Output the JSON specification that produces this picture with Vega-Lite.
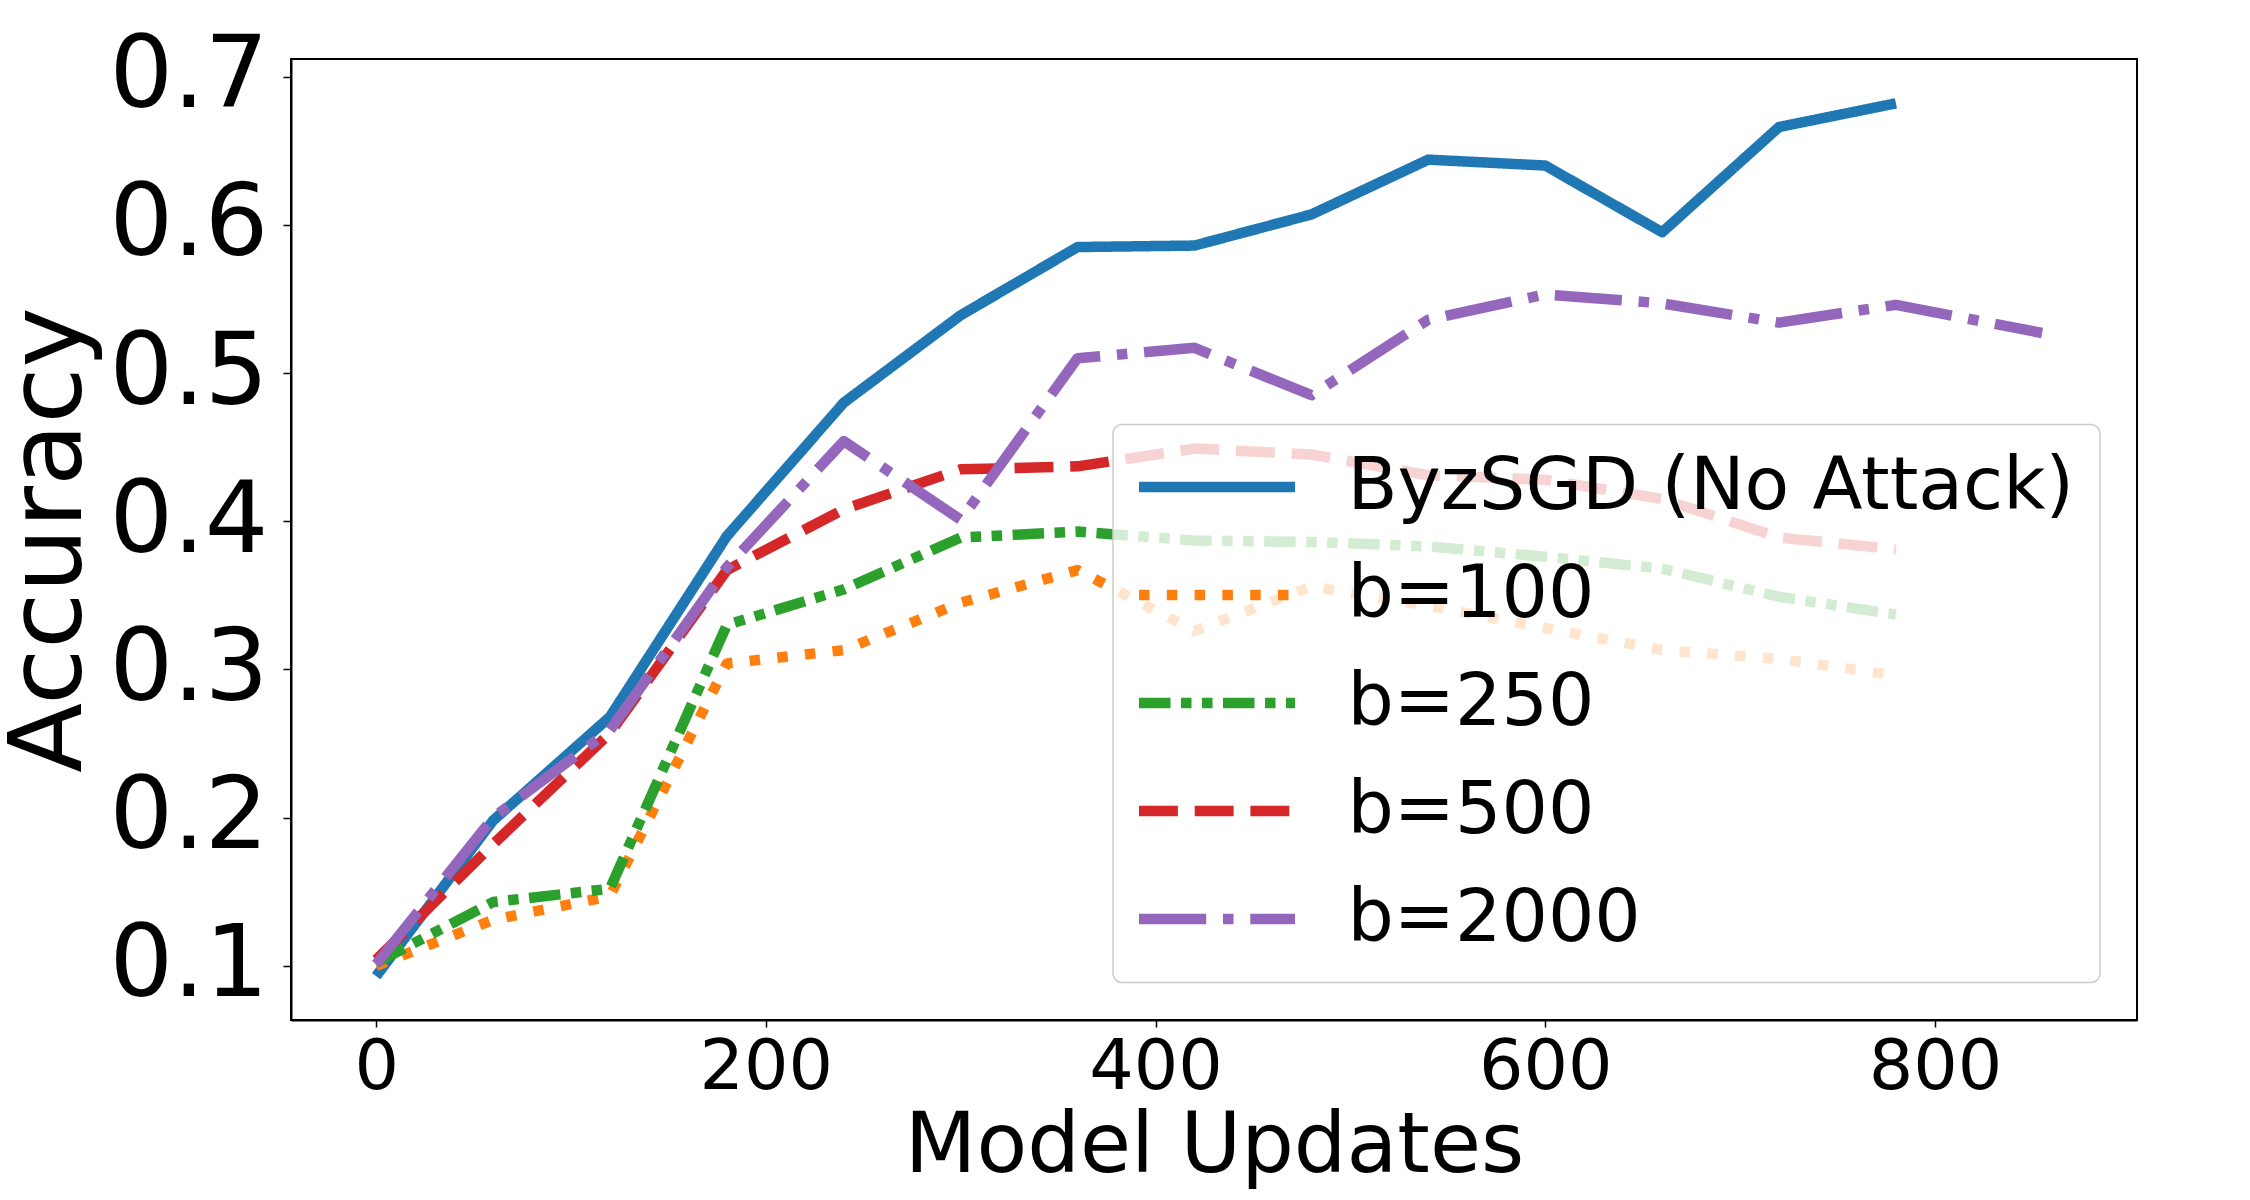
{
  "$schema": "https://vega.github.io/schema/vega-lite/v6.json",
  "width": 1846,
  "height": 961,
  "autosize": {"type": "none"},
  "padding": {"left": 291, "top": 59, "right": 113, "bottom": 180},
  "background": "white",
  "config": {
    "font": "DejaVu Sans",
    "view": {"stroke": "black", "strokeWidth": 2},
    "legend": {
      "orient": "none",
      "legendX": 822,
      "legendY": 365.5,
      "title": null,
      "labelFont": "DejaVu Sans",
      "labelFontSize": 73,
      "labelColor": "black",
      "labelLimit": 3000,
      "symbolType": "M-3,0H3",
      "symbolSize": 2704,
      "symbolStrokeWidth": 10.5,
      "symbolOffset": 41.5,
      "labelOffset": 94,
      "rowPadding": 34,
      "padding": 26,
      "fillColor": "rgba(255,255,255,0.8)",
      "strokeColor": "#cccccc",
      "strokeWidth": 1.5,
      "cornerRadius": 9
    }
  },
  "data": {
    "values": [
      {"series": "ByzSGD (No Attack)", "updates": 0, "accuracy": 0.093},
      {"series": "ByzSGD (No Attack)", "updates": 60, "accuracy": 0.198},
      {"series": "ByzSGD (No Attack)", "updates": 120, "accuracy": 0.268},
      {"series": "ByzSGD (No Attack)", "updates": 180, "accuracy": 0.390},
      {"series": "ByzSGD (No Attack)", "updates": 240, "accuracy": 0.480},
      {"series": "ByzSGD (No Attack)", "updates": 300, "accuracy": 0.539},
      {"series": "ByzSGD (No Attack)", "updates": 360, "accuracy": 0.585},
      {"series": "ByzSGD (No Attack)", "updates": 420, "accuracy": 0.586},
      {"series": "ByzSGD (No Attack)", "updates": 480, "accuracy": 0.607},
      {"series": "ByzSGD (No Attack)", "updates": 540, "accuracy": 0.644},
      {"series": "ByzSGD (No Attack)", "updates": 600, "accuracy": 0.640},
      {"series": "ByzSGD (No Attack)", "updates": 660, "accuracy": 0.595},
      {"series": "ByzSGD (No Attack)", "updates": 720, "accuracy": 0.666},
      {"series": "ByzSGD (No Attack)", "updates": 780, "accuracy": 0.682},
      {"series": "b=100", "updates": 0, "accuracy": 0.100},
      {"series": "b=100", "updates": 60, "accuracy": 0.131},
      {"series": "b=100", "updates": 120, "accuracy": 0.147},
      {"series": "b=100", "updates": 180, "accuracy": 0.304},
      {"series": "b=100", "updates": 240, "accuracy": 0.313},
      {"series": "b=100", "updates": 300, "accuracy": 0.345},
      {"series": "b=100", "updates": 360, "accuracy": 0.367},
      {"series": "b=100", "updates": 420, "accuracy": 0.326},
      {"series": "b=100", "updates": 480, "accuracy": 0.356},
      {"series": "b=100", "updates": 540, "accuracy": 0.343},
      {"series": "b=100", "updates": 600, "accuracy": 0.328},
      {"series": "b=100", "updates": 660, "accuracy": 0.313},
      {"series": "b=100", "updates": 720, "accuracy": 0.307},
      {"series": "b=100", "updates": 780, "accuracy": 0.296},
      {"series": "b=250", "updates": 0, "accuracy": 0.102},
      {"series": "b=250", "updates": 60, "accuracy": 0.143},
      {"series": "b=250", "updates": 120, "accuracy": 0.152},
      {"series": "b=250", "updates": 180, "accuracy": 0.330},
      {"series": "b=250", "updates": 240, "accuracy": 0.354},
      {"series": "b=250", "updates": 300, "accuracy": 0.389},
      {"series": "b=250", "updates": 360, "accuracy": 0.393},
      {"series": "b=250", "updates": 420, "accuracy": 0.387},
      {"series": "b=250", "updates": 480, "accuracy": 0.386},
      {"series": "b=250", "updates": 540, "accuracy": 0.383},
      {"series": "b=250", "updates": 600, "accuracy": 0.376},
      {"series": "b=250", "updates": 660, "accuracy": 0.368},
      {"series": "b=250", "updates": 720, "accuracy": 0.349},
      {"series": "b=250", "updates": 780, "accuracy": 0.337},
      {"series": "b=500", "updates": 0, "accuracy": 0.104},
      {"series": "b=500", "updates": 60, "accuracy": 0.182},
      {"series": "b=500", "updates": 120, "accuracy": 0.257},
      {"series": "b=500", "updates": 180, "accuracy": 0.367},
      {"series": "b=500", "updates": 240, "accuracy": 0.408},
      {"series": "b=500", "updates": 300, "accuracy": 0.435},
      {"series": "b=500", "updates": 360, "accuracy": 0.437},
      {"series": "b=500", "updates": 420, "accuracy": 0.449},
      {"series": "b=500", "updates": 480, "accuracy": 0.445},
      {"series": "b=500", "updates": 540, "accuracy": 0.431},
      {"series": "b=500", "updates": 600, "accuracy": 0.428},
      {"series": "b=500", "updates": 660, "accuracy": 0.415},
      {"series": "b=500", "updates": 720, "accuracy": 0.389},
      {"series": "b=500", "updates": 780, "accuracy": 0.381},
      {"series": "b=2000", "updates": 0, "accuracy": 0.101},
      {"series": "b=2000", "updates": 60, "accuracy": 0.200},
      {"series": "b=2000", "updates": 120, "accuracy": 0.259},
      {"series": "b=2000", "updates": 180, "accuracy": 0.369},
      {"series": "b=2000", "updates": 240, "accuracy": 0.454},
      {"series": "b=2000", "updates": 300, "accuracy": 0.401},
      {"series": "b=2000", "updates": 360, "accuracy": 0.510},
      {"series": "b=2000", "updates": 420, "accuracy": 0.517},
      {"series": "b=2000", "updates": 480, "accuracy": 0.485},
      {"series": "b=2000", "updates": 540, "accuracy": 0.536},
      {"series": "b=2000", "updates": 600, "accuracy": 0.553},
      {"series": "b=2000", "updates": 660, "accuracy": 0.547},
      {"series": "b=2000", "updates": 720, "accuracy": 0.534},
      {"series": "b=2000", "updates": 780, "accuracy": 0.546},
      {"series": "b=2000", "updates": 855, "accuracy": 0.527}
    ]
  },
  "mark": {"type": "line", "strokeWidth": 10.5, "strokeCap": "butt", "strokeJoin": "round", "clip": true},
  "encoding": {
    "x": {
      "field": "updates",
      "type": "quantitative",
      "scale": {"domain": [-43.7, 903.7], "nice": false, "zero": false},
      "axis": {
        "title": "Model Updates",
        "values": [0, 200, 400, 600, 800],
        "grid": false,
        "labelFont": "DejaVu Sans",
        "labelFontSize": 70,
        "labelColor": "black",
        "labelPadding": 6,
        "labelFlush": false,
        "tickSize": 7,
        "tickWidth": 1.5,
        "tickColor": "black",
        "domainColor": "black",
        "domainWidth": 2,
        "titleFont": "DejaVu Sans",
        "titleFontSize": 83,
        "titleFontWeight": "normal",
        "titleColor": "black",
        "titlePadding": 3
      }
    },
    "y": {
      "field": "accuracy",
      "type": "quantitative",
      "scale": {"domain": [0.0634, 0.7119], "nice": false, "zero": false},
      "axis": {
        "title": "Accuracy",
        "values": [0.1, 0.2, 0.3, 0.4, 0.5, 0.6, 0.7],
        "format": ".1f",
        "grid": false,
        "labelFont": "DejaVu Sans",
        "labelFontSize": 100,
        "labelColor": "black",
        "labelPadding": 15,
        "labelFlush": false,
        "tickSize": 8,
        "tickWidth": 1.5,
        "tickColor": "black",
        "domainColor": "black",
        "domainWidth": 2,
        "titleFont": "DejaVu Sans",
        "titleFontSize": 102,
        "titleFontWeight": "normal",
        "titleColor": "black",
        "titlePadding": 7
      }
    },
    "color": {
      "field": "series",
      "type": "nominal",
      "scale": {
        "domain": ["ByzSGD (No Attack)", "b=100", "b=250", "b=500", "b=2000"],
        "range": ["#1f77b4", "#ff7f0e", "#2ca02c", "#d62728", "#9467bd"]
      }
    },
    "strokeDash": {
      "field": "series",
      "type": "nominal",
      "scale": {
        "domain": ["ByzSGD (No Attack)", "b=100", "b=250", "b=500", "b=2000"],
        "range": [[1, 0], [10.5, 17.3], [31.5, 10.5, 10.5, 10.5, 10.5, 10.5], [38.9, 16.8], [67.2, 16.8, 10.5, 16.8]]
      }
    }
  }
}
